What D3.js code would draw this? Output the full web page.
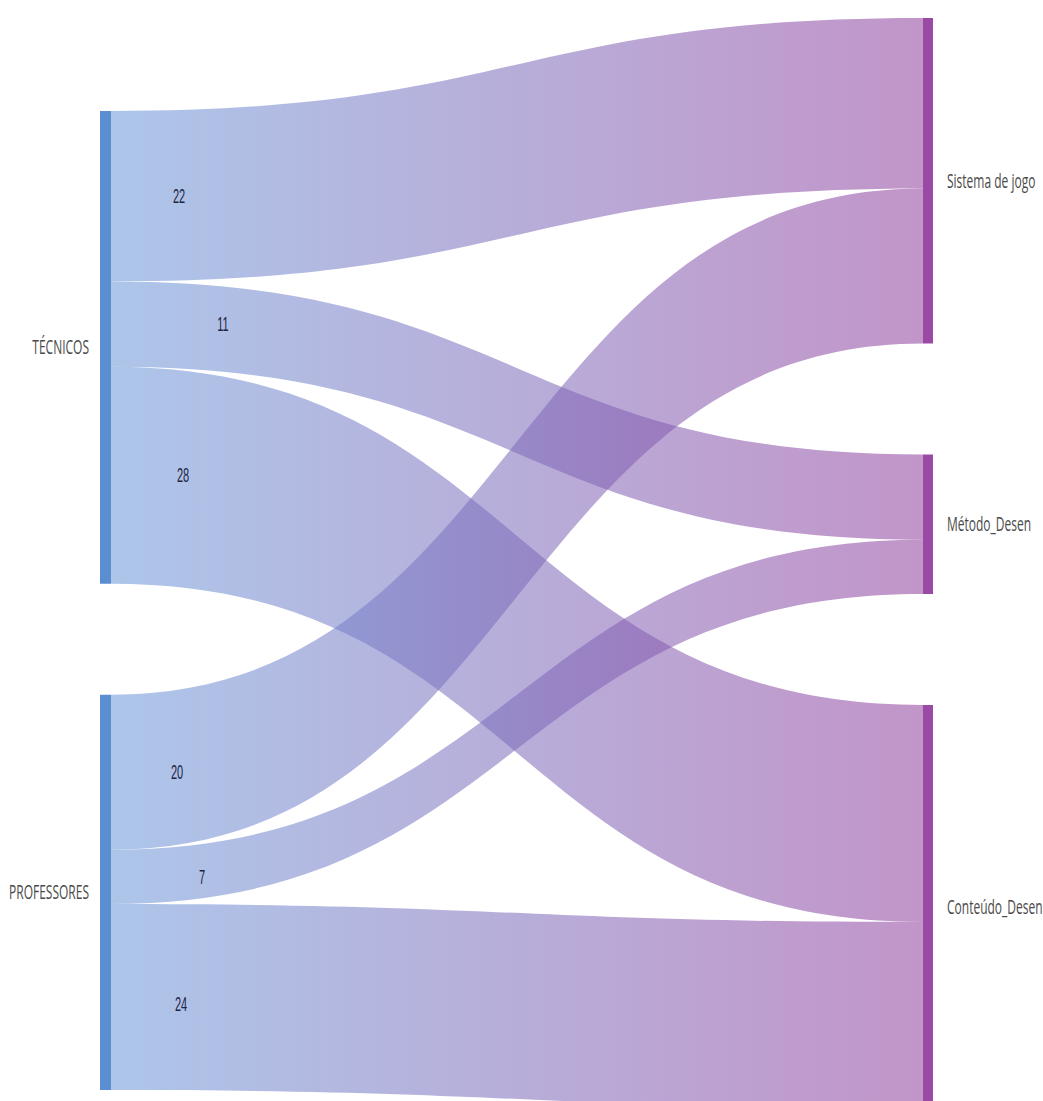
<!DOCTYPE html>
<html>
<head>
<meta charset="utf-8">
<script src="https://cdn.jsdelivr.net/npm/d3@7"></script>
<style>
  html, body { margin: 0; padding: 0; background: #ffffff; }
  svg { display: block; }
</style>
</head>
<body>
<svg id="chart" width="1043" height="1101"></svg>
<script>
// ---------- DATA ----------
const sourceNodes = ["TÉCNICOS", "PROFESSORES"];
const targetNodes = ["Sistema de jogo", "Método_Desen", "Conteúdo_Desen"];
const linkSources = ["TÉCNICOS", "TÉCNICOS", "TÉCNICOS", "PROFESSORES", "PROFESSORES", "PROFESSORES"];
const linkTargets = ["Sistema de jogo", "Método_Desen", "Conteúdo_Desen", "Sistema de jogo", "Método_Desen", "Conteúdo_Desen"];
const linkValues  = [22, 11, 28, 20, 7, 24];

// ---------- LAYOUT / STYLE ----------
const W = 1043, H = 1101;
const leftBarX = 100, barW = 11, rightBarX = 923, rightBarW = 10;
const leftTop = 111, rightTop = 18, nodePad = 111;
const valueLabelDx = [68, 112, 72, 66, 91, 70];   // label offsets from the left bar
const valueLabelDy = [7, 7, 7, 7, 7, 14];
const leftColor = "#5b8ed1", rightColor = "#9a49a5";
const linkLeft = "#6a96d8", linkRight = "#8f3e9c", linkOpacity = 0.55;

const svg = d3.select("#chart");
const total = d3.sum(linkValues);
const y = d3.scaleLinear().domain([0, total]).range([0, 868]);

// build nodes
const nodes = {};
function placeColumn(names, top, x0, x1, side) {
  let cur = top;
  names.forEach(name => {
    const v = side === "src"
      ? d3.sum(linkValues.filter((_, i) => linkSources[i] === name))
      : d3.sum(linkValues.filter((_, i) => linkTargets[i] === name));
    nodes[name] = { name, side, x0, x1, y0: cur, y1: cur + y(v), off: cur };
    cur += y(v) + nodePad;
  });
}
placeColumn(sourceNodes, leftTop, leftBarX, leftBarX + barW, "src");
placeColumn(targetNodes, rightTop, rightBarX, rightBarX + rightBarW, "tgt");

// build links (ordered as in data)
const links = linkValues.map((v, i) => {
  const s = nodes[linkSources[i]], t = nodes[linkTargets[i]];
  const w = y(v);
  const l = { value: v, i, sy0: s.off, sy1: s.off + w, ty0: t.off, ty1: t.off + w };
  s.off += w; t.off += w;
  return l;
});

// gradient
const defs = svg.append("defs");
const grad = defs.append("linearGradient")
  .attr("id", "linkGrad").attr("gradientUnits", "userSpaceOnUse")
  .attr("x1", leftBarX + barW).attr("x2", rightBarX).attr("y1", 0).attr("y2", 0);
grad.append("stop").attr("offset", "0%").attr("stop-color", linkLeft);
grad.append("stop").attr("offset", "100%").attr("stop-color", linkRight);

const xs = leftBarX + barW, xt = rightBarX, xm = (xs + xt) / 2;
function ribbon(l) {
  return `M${xs},${l.sy0} C${xm},${l.sy0} ${xm},${l.ty0} ${xt},${l.ty0}`
       + ` L${xt},${l.ty1} C${xm},${l.ty1} ${xm},${l.sy1} ${xs},${l.sy1} Z`;
}

svg.append("g").selectAll("path").data(links).join("path")
  .attr("d", ribbon)
  .attr("fill", "url(#linkGrad)")
  .attr("fill-opacity", linkOpacity);

// node bars
const nodeArr = Object.values(nodes);
svg.append("g").selectAll("rect").data(nodeArr).join("rect")
  .attr("x", d => d.x0).attr("y", d => d.y0)
  .attr("width", d => d.x1 - d.x0).attr("height", d => d.y1 - d.y0)
  .attr("fill", d => d.side === "src" ? leftColor : rightColor);

// node labels
svg.append("g").selectAll("text").data(nodeArr).join("text")
  .attr("transform", d => {
    const tx = d.side === "src" ? d.x0 - 11 : d.x1 + 14;
    return `translate(${tx},${(d.y0 + d.y1) / 2 + 7}) scale(0.6,1)`;
  })
  .attr("text-anchor", d => d.side === "src" ? "end" : "start")
  .attr("font-family", "'Open Sans', 'Noto Sans', sans-serif")
  .attr("font-size", 20)
  .attr("fill", "#4a4a4a")
  .text(d => d.name);

// value labels
svg.append("g").selectAll("text").data(links).join("text")
  .attr("transform", l => `translate(${xs + valueLabelDx[l.i]},${(l.sy0 + l.sy1) / 2 + valueLabelDy[l.i]}) scale(0.55,1)`)
  .attr("text-anchor", "middle")
  .attr("font-family", "'Liberation Sans', Arial, sans-serif")
  .attr("font-size", 20)
  .attr("fill", "#1d2646")
  .text(l => l.value);
</script>
</body>
</html>
